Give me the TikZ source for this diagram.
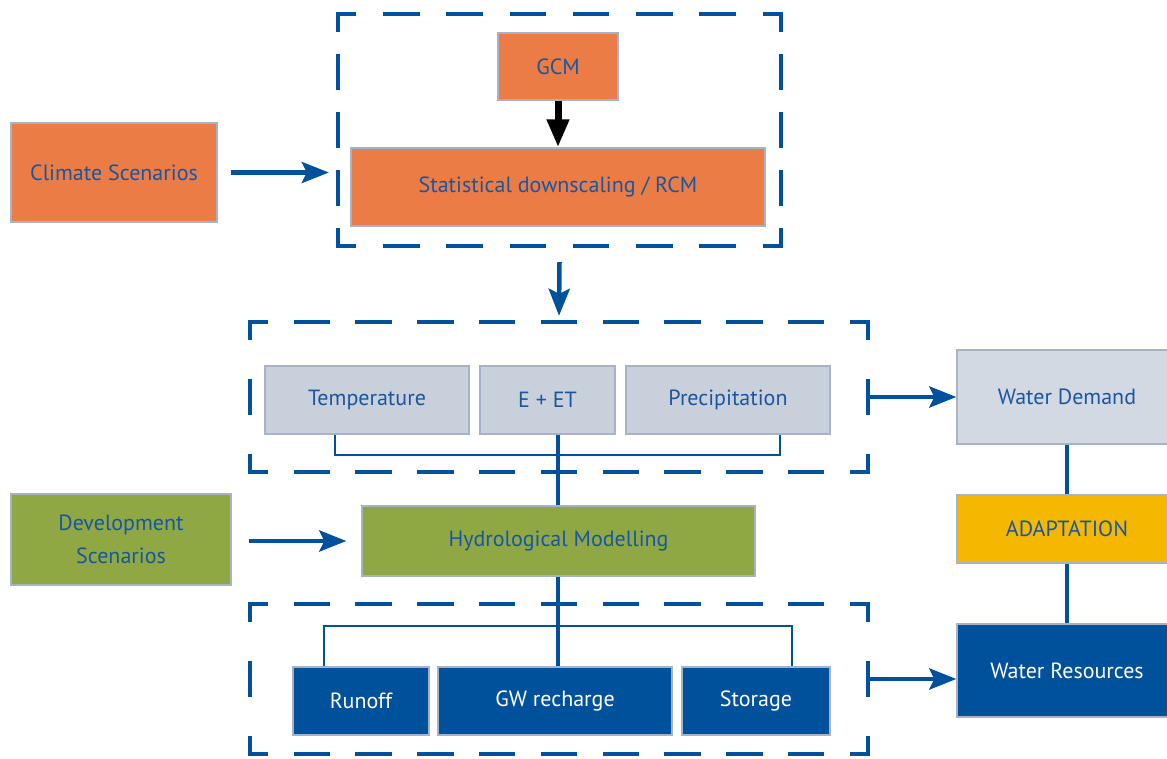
\documentclass[tikz,border=0pt]{standalone}
\usepackage{fontspec}
\setmainfont{PT Sans}
\usetikzlibrary{arrows.meta}

\definecolor{dblue}{HTML}{00519B}
\definecolor{txtblue}{HTML}{1A56A0}
\definecolor{orangebox}{HTML}{EC7C45}
\definecolor{greybox}{HTML}{C8D0DC}
\definecolor{lightgreybox}{HTML}{D3D9E3}
\definecolor{greenbox}{HTML}{8FA843}
\definecolor{yellowbox}{HTML}{F6B700}
\definecolor{boxedge}{HTML}{A7B2C6}

% one side of a dashed frame, with half dashes at both corners
\newcommand\dashside[4]{%
  \pgfmathsetmacro\sidelen{abs(#3-#1)+abs(#4-#2)}%
  \pgfmathsetmacro\sidecount{max(1,round(\sidelen/63))}%
  \pgfmathsetmacro\sidegap{\sidelen/\sidecount-32}%
  \draw[frameline, dash pattern=on 32pt off \sidegap pt, dash phase=16pt] (#1,#2) -- (#3,#4);}
\newcommand\dashframe[4]{%
  \dashside{#1}{#2}{#3}{#2}%
  \dashside{#3}{#2}{#3}{#4}%
  \dashside{#3}{#4}{#1}{#4}%
  \dashside{#1}{#4}{#1}{#2}}

\tikzset{
  box/.style={draw=boxedge, line width=1.3pt, inner sep=0pt, align=center,
    font=\fontsize{22}{33}\selectfont, text=txtblue},
  orangenode/.style={box, fill=orangebox},
  greynode/.style={box, fill=greybox},
  greennode/.style={box, fill=greenbox},
  darknode/.style={box, fill=dblue, text=white},
  frameline/.style={draw=dblue, line width=4.5pt, line cap=rect},
  framearea/.style={draw=none, inner sep=0pt},
  arr/.style={draw=dblue, line width=4.5pt,
    -{Stealth[length=27pt, width=21pt, inset=5pt]}},
  blackarr/.style={draw=black, line width=7pt,
    -{Triangle[length=28pt, width=21pt]}},
  link/.style={draw=dblue, line width=4.5pt},
  bracket/.style={draw=dblue, line width=2pt},
}

\begin{document}
\begin{tikzpicture}[x=1pt, y=-1pt]
\useasboundingbox (0,0) rectangle (1167,758);

% dashed frames
\dashframe{338}{14}{781}{246}
\dashframe{250}{322}{868}{472}
\dashframe{250}{604}{868}{754}
\node[framearea, minimum width=443pt, minimum height=232pt] (topframe) at (559.5,130) {};
\node[framearea, minimum width=618pt, minimum height=150pt] (midframe) at (559,397) {};
\node[framearea, minimum width=618pt, minimum height=150pt] (botframe) at (559,679) {};

% climate chain
\node[orangenode, minimum width=206pt, minimum height=99pt] (clim) at (114,172.5) {Climate Scenarios};
\node[orangenode, minimum width=120pt, minimum height=67pt] (gcm) at (558,66.5) {GCM};
\node[orangenode, minimum width=414pt, minimum height=78pt] (stat) at (558,187) {Statistical downscaling / RCM};

% climate variables
\node[greynode, minimum width=204pt, minimum height=68pt] (temp) at (367,400) {Temperature};
\node[greynode, minimum width=135pt, minimum height=68pt] (eet) at (547.5,400) {E + ET};
\node[greynode, minimum width=204pt, minimum height=68pt] (prec) at (728,400) {Precipitation};

% hydrology
\node[greennode, minimum width=220pt, minimum height=91pt] (dev) at (121,539.5) {Development\\Scenarios};
\node[greennode, minimum width=393pt, minimum height=70pt] (hydro) at (558.5,541) {Hydrological Modelling};
\node[darknode, minimum width=136pt, minimum height=68pt] (runoff) at (361,701) {Runoff};
\node[darknode, minimum width=234pt, minimum height=68pt] (gw) at (555,701) {GW recharge};
\node[darknode, minimum width=148pt, minimum height=68pt] (stor) at (756,701) {Storage};

% outcomes
\node[box, fill=lightgreybox, minimum width=220pt, minimum height=94pt] (wd) at (1067,397) {Water Demand};
\node[box, fill=yellowbox, minimum width=220pt, minimum height=68pt] (adapt) at (1067,529) {ADAPTATION};
\node[darknode, minimum width=220pt, minimum height=93pt] (wr) at (1067,670.5) {Water Resources};

% arrows
\draw[arr] ([xshift=13pt]clim.east) -- ([xshift=-9pt]clim.east -| topframe.west);
\draw[blackarr] (gcm.south) -- (stat.north);
\draw[arr] ([yshift=-16pt]topframe.south) -- ([yshift=6pt]midframe.north);
\draw[arr] (midframe.east) -- (midframe.east -| wd.west);
\draw[arr] ([xshift=17pt]dev.east |- hydro.west) -- ([xshift=-15pt]hydro.west);
\draw[arr] (botframe.east) -- (botframe.east -| wr.west);

% links between boxes
\coordinate (col) at (558,0);
\draw[link] (eet.south -| col) -- (hydro.north -| col);
\draw[link] (hydro.south -| col) -- (gw.north -| col);
\draw[bracket] (temp.south -| 335,0) -- (335,455) -- (780,455) -- (prec.south -| 780,0);
\draw[bracket] (runoff.north -| 324,0) -- (324,626) -- (792,626) -- (stor.north -| 792,0);
\draw[link] (wd.south) -- (adapt.north);
\draw[link] (adapt.south) -- (wr.north);
\end{tikzpicture}
\end{document}
